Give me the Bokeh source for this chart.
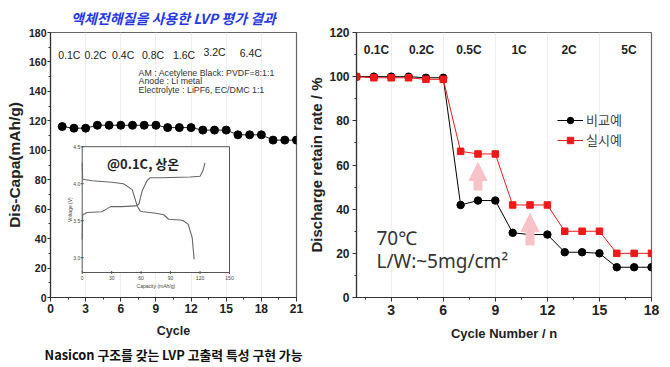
import math
from bokeh.plotting import figure
from bokeh.models import (Range1d, Label, Legend, LegendItem, Arrow, NormalHead,
                          SingleIntervalTicker, Title)
from bokeh.layouts import row
from bokeh.embed import file_html
from bokeh.resources import INLINE
from bokeh.core.properties import value

# ---------------- left chart data ----------------
cycles_left = [1, 2, 3, 4, 5, 6, 7, 8, 9, 10, 11, 12, 13, 14, 15, 16, 17, 18, 19, 20, 21]
dis_capa = [116.1, 115.0, 115.0, 117.0, 117.0, 117.0, 117.0, 117.0, 117.0, 115.4, 115.4,
            115.4, 113.7, 113.7, 113.7, 110.5, 110.5, 110.5, 106.9, 106.9, 106.9]
rate_labels_left = ["0.1C", "0.2C", "0.4C", "0.8C", "1.6C", "3.2C", "6.4C"]
rate_label_x_left = [1.6, 3.85, 6.2, 8.75, 11.4, 14.0, 17.1]
rate_label_y_left = [164.4, 164.4, 164.4, 164.4, 164.4, 167.0, 166.4]
cell_info = ["AM : Acetylene Black: PVDF=8:1:1", "Anode : Li metal",
             "Electrolyte : LiPF6, EC/DMC 1:1"]
cell_info_y = [152.6, 147.0, 140.9]

# inset (voltage profile @0.1C)
charge_cap = [0, 0.5, 5, 20, 25, 29, 40, 54, 57.6, 61, 66, 69, 80, 110, 120, 123, 125]
charge_volt = [3.25, 3.58, 3.61, 3.62, 3.66, 3.69, 3.69, 3.70, 3.72, 3.90, 4.04, 4.08,
               4.08, 4.09, 4.10, 4.18, 4.28]
discharge_cap = [0, 0.5, 10, 30, 42, 51, 56, 59, 62, 75, 83, 88, 100, 103, 108, 112, 114]
discharge_volt = [4.28, 4.06, 4.04, 4.02, 4.00, 3.92, 3.70, 3.63, 3.62, 3.60, 3.58, 3.52,
                  3.51, 3.50, 3.45, 3.27, 2.98]
inset_x_ticks = [0, 30, 60, 90, 120, 150]
inset_y_ticks = [3.0, 3.5, 4.0, 4.5]
inset_xlim = (0, 150)
inset_ylim = (2.8, 4.5)

# ---------------- right chart data ----------------
cycles_right = [1, 2, 3, 4, 5, 6, 7, 8, 9, 10, 11, 12, 13, 14, 15, 16, 17, 18]
comparative = [100, 100, 100, 100, 99.5, 99.5, 41.9, 43.9, 43.9, 29.3, 28.5, 28.5,
               20.5, 20.5, 20.0, 13.7, 13.7, 13.7]
example = [100, 99.5, 99.5, 99.5, 98.8, 98.8, 66.2, 65.0, 65.0, 41.9, 41.9, 41.9,
           30.0, 30.0, 30.0, 20.0, 20.0, 20.0]
rate_labels_right = ["0.1C", "0.2C", "0.5C", "1C", "2C", "5C"]
rate_label_x_right = [2.15, 4.75, 7.48, 10.37, 13.25, 16.7]
arrow_x = [8, 11]
arrow_from = [48.4, 23.5]
arrow_to = [61.1, 38.0]

SANS = "Liberation Sans"
KR = "Noto Sans CJK KR"
PINK = "#f7c3c8"
RED = "#f01818"


def style_axes(p, xtick_size, ytick_size, xlabel_size, ylabel_size):
    for ax in p.axis:
        ax.axis_line_color = "#333333"
        ax.axis_line_width = 1.2
        ax.major_tick_line_color = "#333333"
        ax.minor_tick_line_color = "#333333"
        ax.major_tick_in = 0
        ax.major_tick_out = 4
        ax.minor_tick_in = 0
        ax.minor_tick_out = 2
        ax.major_label_text_font = SANS
        ax.major_label_text_font_style = "bold"
        ax.major_label_text_color = "#222222"
        ax.major_label_standoff = 2
        ax.axis_label_text_font = SANS
        ax.axis_label_text_font_style = "bold"
        ax.axis_label_text_color = "#222222"
    p.xaxis.major_label_text_font_size = xtick_size
    p.yaxis.major_label_text_font_size = ytick_size
    p.xaxis.axis_label_text_font_size = xlabel_size
    p.yaxis.axis_label_text_font_size = ylabel_size
    p.outline_line_color = "#666666"
    p.outline_line_width = 1.2
    p.xgrid.grid_line_color = "#eeeeee"
    p.ygrid.grid_line_color = None
    p.background_fill_color = "white"
    p.border_fill_color = "white"


# ================= LEFT FIGURE =================
FRAME_W1, FRAME_H1 = 246, 265
p1 = figure(frame_width=FRAME_W1, frame_height=FRAME_H1, x_range=Range1d(0, 21),
            y_range=Range1d(0, 180), output_backend="svg", toolbar_location=None,
            min_border_left=50, min_border_right=9, min_border_top=32, min_border_bottom=69)
p1.title.text = "액체전해질을 사용한 LVP 평가 결과"
p1.title.align = "center"
p1.title.offset = -3
p1.title.text_font = KR
p1.title.text_font_style = "bold italic"
p1.title.text_font_size = "14px"
p1.title.text_color = "#2638e6"
p1.title.standoff = 10

p1.xaxis.ticker = SingleIntervalTicker(interval=3, num_minor_ticks=2)
p1.yaxis.ticker = SingleIntervalTicker(interval=20, num_minor_ticks=2)
p1.xaxis.axis_label = "Cycle"
p1.yaxis.axis_label = "Dis-Capa(mAh/g)"
style_axes(p1, "12px", "10.5px", "12.5px", "15.5px")
p1.yaxis.major_tick_out = 3
p1.yaxis.major_label_standoff = 1
p1.yaxis.axis_label_standoff = 3
p1.xaxis.major_label_standoff = 2
p1.xaxis.axis_label_standoff = 8

p1.add_layout(Title(text="Nasicon 구조를 갖는 LVP 고출력 특성 구현 가능", align="center",
                    offset=-5, text_font=KR, text_font_style="bold", text_font_size="12.8px",
                    text_color="#111111", standoff=5), "below")

p1.line(cycles_left, dis_capa, line_color="#222222", line_width=1)
p1.scatter(cycles_left, dis_capa, marker="circle", size=8, fill_color="black",
           line_color="black")

p1.text(x=rate_label_x_left, y=rate_label_y_left, text=rate_labels_left,
        text_font=value(SANS), text_font_size="10.5px", text_color="#222222",
        text_align="center", text_baseline="middle")
p1.text(x=[7.52] * 3, y=cell_info_y, text=cell_info, text_font=value(SANS),
        text_font_size="8.8px", text_color="#333333", text_align="left",
        text_baseline="middle")

# inset mapped onto extra ranges: box occupies given pixels inside the frame
INSET_PX = (31.7, 179.0, 25.0, 150.8)  # left, right, bottom, top (px from frame bottom-left)
sx = (INSET_PX[1] - INSET_PX[0]) / (inset_xlim[1] - inset_xlim[0])
sy = (INSET_PX[3] - INSET_PX[2]) / (inset_ylim[1] - inset_ylim[0])
ix0 = inset_xlim[0] - INSET_PX[0] / sx
iy0 = inset_ylim[0] - INSET_PX[2] / sy
p1.extra_x_ranges = {"ix": Range1d(ix0, ix0 + FRAME_W1 / sx)}
p1.extra_y_ranges = {"iy": Range1d(iy0, iy0 + FRAME_H1 / sy)}
IR = dict(x_range_name="ix", y_range_name="iy")

p1.quad(left=[inset_xlim[0]], right=[inset_xlim[1]], bottom=[inset_ylim[0]],
        top=[inset_ylim[1]], fill_color="white", line_color="#555555", line_width=1, **IR)
p1.line(charge_cap, charge_volt, line_color="#666666", line_width=1.1, **IR)
p1.line(discharge_cap, discharge_volt, line_color="#666666", line_width=1.1, **IR)
p1.scatter(inset_x_ticks, [inset_ylim[0]] * len(inset_x_ticks), marker="dash",
           angle=math.pi / 2, size=3, line_color="#555555", **IR)
p1.scatter([inset_xlim[0]] * len(inset_y_ticks), inset_y_ticks, marker="dash",
           size=3, line_color="#555555", **IR)
p1.text(x=inset_x_ticks, y=[inset_ylim[0]] * len(inset_x_ticks),
        text=[str(t) for t in inset_x_ticks], text_font=value(SANS), text_font_size="5px",
        text_color="#444444", text_align="center", text_baseline="top", y_offset=3, **IR)
p1.text(x=[inset_xlim[0]] * len(inset_y_ticks), y=inset_y_ticks,
        text=["%.1f" % t for t in inset_y_ticks], text_font=value(SANS),
        text_font_size="5px", text_color="#444444", text_align="right",
        text_baseline="middle", x_offset=-2, **IR)
p1.text(x=[75], y=[inset_ylim[0]], text=["Capacity (mAh/g)"], text_font=value(SANS),
        text_font_size="5px", text_color="#444444", text_align="center",
        text_baseline="top", y_offset=10, **IR)
p1.text(x=[inset_xlim[0]], y=[3.65], text=["Voltage (V)"], text_font=value(SANS),
        text_font_size="5px", text_color="#444444", text_align="center",
        text_baseline="bottom", angle=math.pi / 2, x_offset=-9, **IR)
p1.text(x=[62], y=[4.27], text=["@0.1C, 상온"], text_font=value(KR),
        text_font_style="bold", text_font_size="13px", text_color="#222222",
        text_align="center", text_baseline="middle", **IR)

# ================= RIGHT FIGURE =================
p2 = figure(frame_width=295, frame_height=265, x_range=Range1d(1, 18),
            y_range=Range1d(0, 120), title=None, output_backend="svg",
            toolbar_location=None,
            min_border_left=45, min_border_right=9, min_border_top=30, min_border_bottom=69)
p2.xaxis.ticker = SingleIntervalTicker(interval=3, num_minor_ticks=2)
p2.yaxis.ticker = SingleIntervalTicker(interval=20, num_minor_ticks=2)
p2.xaxis.axis_label = "Cycle Number / n"
p2.yaxis.axis_label = "Discharge retain rate / %"
style_axes(p2, "14px", "12px", "13px", "15px")
p2.yaxis.major_label_standoff = 3
p2.yaxis.axis_label_standoff = 1
p2.xaxis.major_label_standoff = 3
p2.xaxis.axis_label_standoff = 8

for xa, y0, y1 in zip(arrow_x, arrow_from, arrow_to):
    p2.add_layout(Arrow(x_start=xa, y_start=y0, x_end=xa, y_end=y1, line_color=PINK,
                        line_width=9,
                        end=NormalHead(size=18, fill_color=PINK, line_color=PINK)))

l1 = p2.line(cycles_right, comparative, line_color="black", line_width=1)
s1 = p2.scatter(cycles_right, comparative, marker="circle", size=7.5, fill_color="black",
                line_color="black")
l2 = p2.line(cycles_right, example, line_color=RED, line_width=1)
s2 = p2.scatter(cycles_right, example, marker="square", size=6.5, fill_color=RED,
                line_color=RED)

p2.text(x=rate_label_x_right, y=[112.2] * len(rate_labels_right), text=rate_labels_right,
        text_font=value(SANS), text_font_style="bold", text_font_size="12px",
        text_color="#222222", text_align="center", text_baseline="middle")

p2.add_layout(Label(x=2.15, y=27.1, text="70℃", text_font="Noto Sans",
                    text_font_size="19px", text_color="#333333", text_baseline="middle"))
p2.add_layout(Label(x=2.15, y=16.4, text="L/W:~5mg/cm²", text_font="Noto Sans",
                    text_font_size="19px", text_color="#333333", text_baseline="middle"))

legend = Legend(items=[LegendItem(label="비교예", renderers=[l1, s1]),
                       LegendItem(label="실시예", renderers=[l2, s2])],
                location=(201, 148), glyph_width=26, glyph_height=16, spacing=1,
                label_standoff=3, padding=0, margin=0, border_line_color=None,
                background_fill_alpha=0, label_text_font=KR, label_text_font_size="13px",
                label_text_color="#444444")
p2.add_layout(legend)

layout = row(p1, p2)
open("out.html", "w").write(file_html(layout, INLINE))
